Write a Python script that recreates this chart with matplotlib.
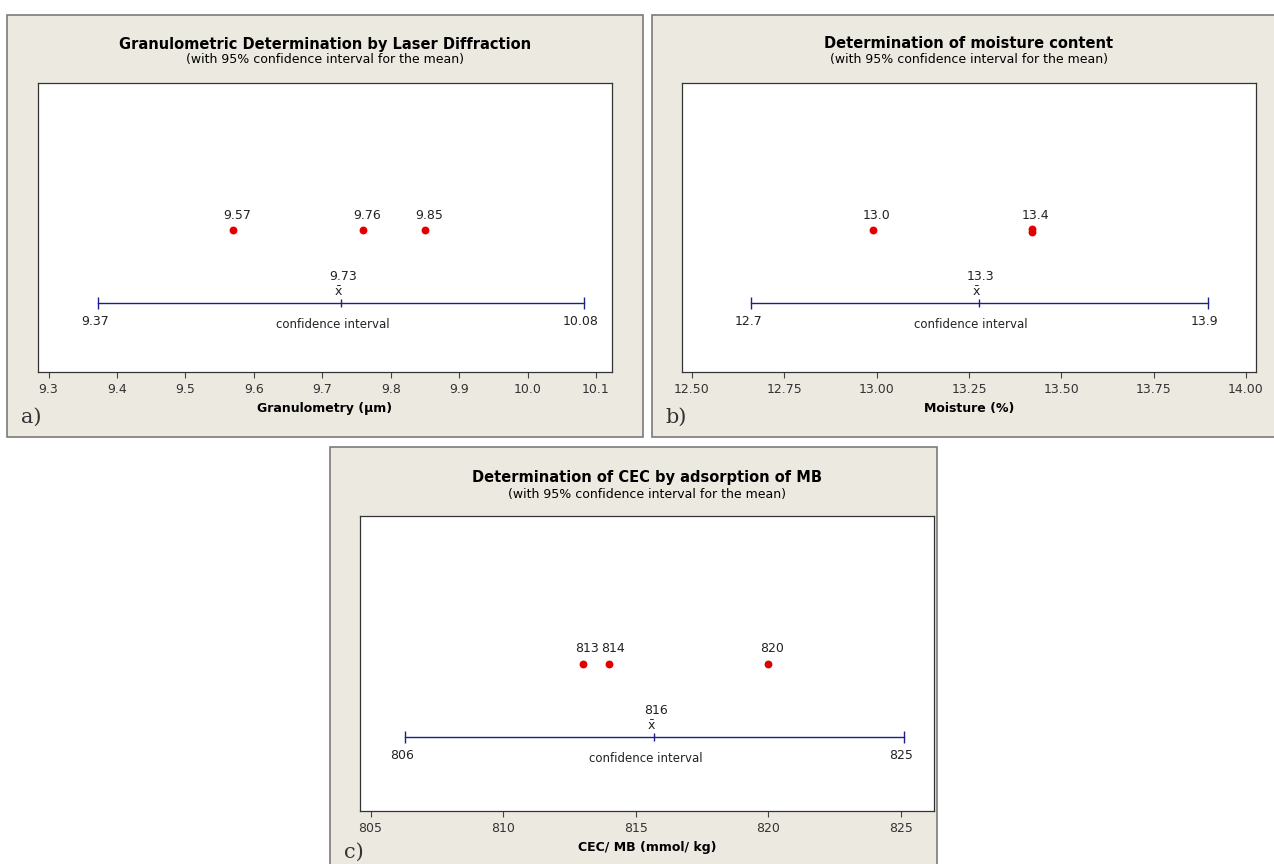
import numpy as np
import matplotlib.pyplot as plt
from matplotlib.patches import Rectangle

# ---- data ----
gran_values = [9.57, 9.76, 9.85]
gran_labels = ["9.57", "9.76", "9.85"]
gran_mean = 9.727
gran_ci = [9.372, 10.082]
gran_ticks = [9.3, 9.4, 9.5, 9.6, 9.7, 9.8, 9.9, 10.0, 10.1]

moist_values = [12.99, 13.42, 13.42]
moist_labels = ["13.0", "13.4", ""]
moist_mean = 13.276
moist_ci = [12.66, 13.897]
moist_ticks = [12.50, 12.75, 13.00, 13.25, 13.50, 13.75, 14.00]

cec_values = [813.0, 814.0, 820.0]
cec_labels = ["813", "814", "820"]
cec_mean = 815.67
cec_ci = [806.3, 825.1]
cec_ticks = [805, 810, 815, 820, 825]

W, H = 1274, 864
BEIGE = "#ECE9E0"
RED = "#E00000"
NAVY = "#1F1F8A"
TXT = "#222222"

fig = plt.figure(figsize=(W / 100, H / 100), dpi=100)
fig.patch.set_facecolor("white")


def px_box(l, t, r, b):
    return [l / W, 1 - b / H, (r - l) / W, (b - t) / H]


def panel(box, axbox, title, title_y, values, labels, mean, mean_label, ci,
          ci_labels, ticks, tickfmt, xlim, xlabel, tag, tag_y,
          y_pts=0.49, y_ci=0.24, stack=None):
    l, t, r, b = box
    fig.patches.append(Rectangle((l / W, 1 - b / H), (r - l) / W, (b - t) / H,
                                 transform=fig.transFigure, facecolor=BEIGE,
                                 edgecolor="#7a7a7a", linewidth=1.2, zorder=-5))
    ax = fig.add_axes(px_box(*axbox))
    ax.set_zorder(2)
    ax.set_facecolor("white")
    ax.set_xlim(*xlim)
    ax.set_ylim(0, 1)
    ax.set_yticks([])
    ax.set_xticks(ticks)
    ax.set_xticklabels([tickfmt % v for v in ticks], fontsize=9, color="#333333")
    ax.tick_params(axis="x", direction="out", length=4, width=0.8, pad=4,
                   color="#444444")
    for s in ax.spines.values():
        s.set_color("#333333")
        s.set_linewidth(0.9)
    ax.set_xlabel(xlabel, fontsize=9, fontweight="bold", labelpad=4)

    cx = (axbox[0] + axbox[2]) / 2 / W
    fig.text(cx, 1 - title_y / H, title, ha="center", va="center",
             fontsize=10.5, fontweight="bold")
    fig.text(cx, 1 - (title_y + 16) / H, "(with 95% confidence interval for the mean)",
             ha="center", va="center", fontsize=9)
    fig.text((l + 24) / W, 1 - tag_y / H, tag, ha="center", va="center",
             fontsize=15, family="DejaVu Serif", color="#333333")

    # individual values
    ys = [y_pts + (stack[i] if stack else 0) for i in range(len(values))]
    ax.scatter(values, ys, s=32, color=RED, zorder=3, linewidths=0)
    for v, lab in zip(values, labels):
        if lab:
            ax.annotate(lab, (v, y_pts), xytext=(4, 8), textcoords="offset pixels",
                        ha="center", va="bottom", fontsize=9, color=TXT)

    # confidence interval
    ax.plot(ci, [y_ci, y_ci], color=NAVY, linewidth=1.0, zorder=2)
    ax.plot(ci, [y_ci, y_ci], linestyle="none", marker="|", markersize=9,
            markeredgewidth=1.0, color=NAVY)
    ax.plot([mean], [y_ci], marker="|", markersize=6, markeredgewidth=1.0,
            color=NAVY)
    ax.annotate("$\\bar{\\mathrm{x}}$", (mean, y_ci), xytext=(-2, 4),
                textcoords="offset pixels", ha="center", va="bottom",
                fontsize=9, color=TXT)
    ax.annotate(mean_label, (mean, y_ci), xytext=(2, 20),
                textcoords="offset pixels", ha="center", va="bottom",
                fontsize=9, color=TXT)
    for v, lab in zip(ci, ci_labels):
        ax.annotate(lab, (v, y_ci), xytext=(-3, -12), textcoords="offset pixels",
                    ha="center", va="top", fontsize=9, color=TXT)
    ax.annotate("confidence interval", (mean, y_ci), xytext=(-8, -15),
                textcoords="offset pixels", ha="center", va="top",
                fontsize=8.5, color=TXT)
    return ax


panel((7, 15, 643, 437), (38, 83, 612, 372),
      "Granulometric Determination by Laser Diffraction", 44,
      gran_values, gran_labels, gran_mean, "9.73", gran_ci, ["9.37", "10.08"],
      gran_ticks, "%.1f", (9.2846, 10.1234), "Granulometry (µm)", "a)", 417)

panel((652, 15, 1280, 437), (682, 83, 1256, 372),
      "Determination of moisture content", 44,
      moist_values, moist_labels, moist_mean, "13.3", moist_ci, ["12.7", "13.9"],
      moist_ticks, "%.2f", (12.473, 14.027), "Moisture (%)", "b)", 417,
      stack=[0, 0.006, -0.006])

panel((330, 447, 937, 874), (360, 516, 934, 811),
      "Determination of CEC by adsorption of MB", 478,
      cec_values, cec_labels, cec_mean, "816", cec_ci, ["806", "825"],
      cec_ticks, "%d", (804.6, 826.24), "CEC/ MB (mmol/ kg)", "c)", 852,
      y_pts=0.50, y_ci=0.25)

fig.savefig("out.png", dpi=100, facecolor="white")
